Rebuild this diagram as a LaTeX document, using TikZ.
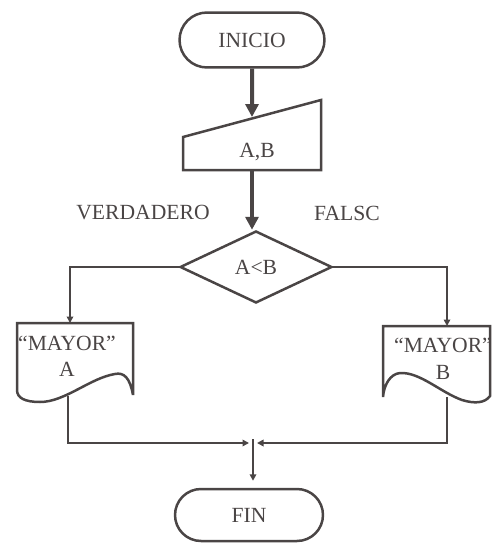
\documentclass[tikz,border=0pt]{standalone}
\usepackage{fontspec}
\setmainfont{Liberation Serif}
\usetikzlibrary{shapes.geometric,shapes.misc,arrows.meta}
\definecolor{tinta}{HTML}{4A4545}

\begin{document}
\begin{tikzpicture}[x=0.02cm,y=-0.02cm,
  every node/.style={text=tinta,font=\fontsize{12.3}{15}\selectfont},
  linea/.style={draw=tinta,line width=0.05cm},
  flecha/.style={linea,line width=0.08cm,-{Triangle[length=0.26cm,width=0.26cm]}},
  punta/.style={linea,-{Triangle[length=0.13cm,width=0.13cm]}},
  terminal/.style={rounded rectangle,linea,minimum width=2.9cm,minimum height=1.1cm,inner sep=0pt},
  decision/.style={diamond,linea,minimum width=3.04cm,minimum height=1.44cm,inner sep=0pt}]
\useasboundingbox (0,0) rectangle (492,544);

\node[terminal] (inicio) at (252,40) {INICIO};

% entrada manual
\draw[linea] (183,137) -- (321,100) -- (321,170) -- (183,170) -- cycle;
\node (datos) at (257,152) {A,B};
\coordinate (datosN) at (252,117);
\coordinate (datosS) at (252,170);
\draw[flecha] (inicio) -- (datosN);

\node[decision] (cond) at (256,267) {A<B};
\draw[flecha] (datosS) -- (datosS |- cond.north);
\node (verd) at (143,213) {VERDADERO};
\node (fals) at (347,213) {FALSC};

% salidas (documento)
\draw[linea] (17,323) -- (133,323) -- (133,395)
  .. controls (130,378) and (124,372) .. (115,374)
  .. controls (90,378) and (65,402) .. (40,402)
  .. controls (25,402) and (17,398) .. (17,390) -- cycle;
\node[align=center] (mayorA) at (67,356) {“MAYOR”\\A};
\draw[linea] (383,326) -- (490,326) -- (490,396)
  .. controls (485,403) and (475,404) .. (462,400)
  .. controls (440,392) and (420,372) .. (400,373)
  .. controls (390,374) and (384,385) .. (383,397) -- cycle;
\node[align=center] (mayorB) at (443,359) {“MAYOR”\\B};

\coordinate (docA) at (70,323);
\coordinate (docB) at (447,326);
\draw[punta] (cond.west) -| (docA);
\draw[punta] (cond.east) -| (docB);

\coordinate (salA) at (68,396);
\coordinate (salB) at (447,397);
\coordinate (unionI) at (249,443);
\coordinate (unionD) at (257,443);
\coordinate (union) at (253,439);
\draw[punta] (salA) |- (unionI);
\draw[punta] (salB) |- (unionD);

\node[terminal,minimum width=2.96cm,minimum height=1.04cm] (fin) at (249,515) {FIN};
\draw[punta,shorten >=0.14cm] (union) -- (union |- fin.north);
\end{tikzpicture}
\end{document}
